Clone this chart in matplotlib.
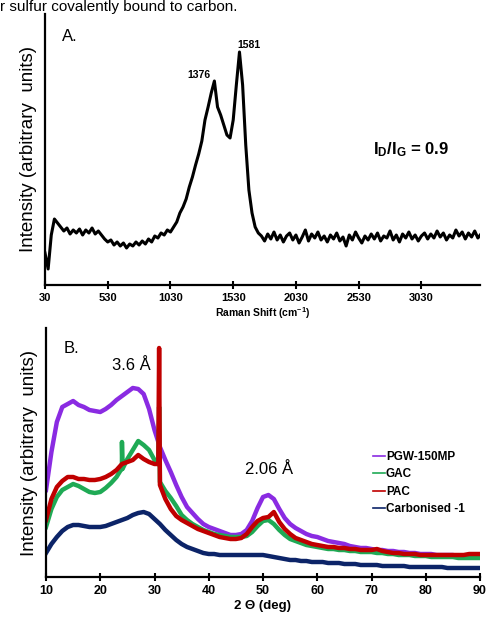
import numpy as np
import matplotlib
matplotlib.use("Agg")
import matplotlib.pyplot as plt

plt.rcParams['font.family'] = ['Liberation Sans', 'DejaVu Sans']
plt.rcParams['mathtext.fontset'] = 'custom'
plt.rcParams['mathtext.rm'] = 'Liberation Sans'
plt.rcParams['mathtext.it'] = 'Liberation Sans:italic'
plt.rcParams['mathtext.bf'] = 'Liberation Sans:bold'

# Raman spectrum (panel A), values every 25 cm-1 starting at 30
raman_intensity = [
    32, 16, 50, 66, 62, 58, 54, 57, 51, 55, 52, 56, 50, 55, 52, 57, 51, 54, 50, 46,
    43, 45, 40, 43, 39, 42, 37, 41, 39, 43, 40, 44, 41, 46, 43, 49, 47, 52, 50, 55,
    53, 58, 63, 72, 78, 86, 98, 108, 120, 131, 144, 165, 178, 192, 204, 178, 170, 160, 150, 147,
    165, 200, 233, 200, 140, 95, 72, 58, 52, 49,
    44, 51, 46, 53, 45, 50, 43, 49, 52, 45, 50, 42, 48, 55, 44, 51, 47, 53, 45, 49,
    43, 50, 46, 52, 44, 48, 39, 50, 45, 53, 47, 42, 49, 45, 51, 46, 52, 44, 49, 47,
    54, 45, 50, 43, 51, 47, 53, 46, 50, 44, 49, 52, 46, 51, 47, 54, 48, 52, 45, 50,
    47, 55, 49, 53, 46, 52, 48, 54, 47, 51,
]
raman_shift = 30 + 25 * np.arange(len(raman_intensity))
raman_ticks = [30, 530, 1030, 1530, 2030, 2530, 3030]

# XRD patterns (panel B), values every 1 degree from 10 to 90
two_theta = np.arange(10, 91, 1)
pgw = [87, 125, 155, 170, 173, 176, 172, 170, 167, 166, 165, 168, 172, 177, 181, 185, 189, 188, 183, 168,
       147, 130, 117, 105, 92, 80, 70, 64, 58, 53, 50, 48, 46, 44, 42, 42, 43, 47, 56, 69,
       80, 82, 78, 68, 59, 53, 49, 46, 43, 41, 40, 38, 36, 35, 34, 33, 31, 30, 29, 29,
       28, 27, 27, 26, 26, 25, 25, 24, 24, 23, 23, 23, 22, 22, 22, 22, 21, 21, 21, 21, 21]
gac = [50, 68, 80, 87, 90, 93, 91, 88, 85, 84, 85, 89, 94, 100, 108, 118, 127, 136, 132, 127,
       117, 95, 86, 79, 71, 62, 57, 53, 50, 47, 45, 43, 42, 41, 40, 40, 40, 41, 45, 51,
       56, 57, 53, 47, 42, 38, 36, 34, 32, 31, 30, 29, 28, 28, 27, 27, 26, 26, 25, 25,
       25, 24, 24, 23, 23, 22, 22, 22, 21, 21, 21, 20, 20, 20, 20, 20, 19, 19, 19, 19, 19]
pac = [57, 78, 90, 96, 100, 100, 98, 98, 97, 97, 98, 100, 103, 107, 113, 115, 117, 122, 118, 115,
       113, 92, 78, 68, 61, 57, 54, 51, 48, 46, 44, 42, 40, 39, 38, 38, 39, 43, 50, 56,
       59, 60, 65, 55, 48, 43, 39, 37, 35, 33, 32, 31, 30, 30, 29, 29, 28, 28, 27, 27,
       27, 28, 26, 25, 24, 24, 23, 23, 23, 22, 22, 22, 22, 22, 22, 22, 22, 22, 23, 23, 23]
carb = [24, 33, 40, 46, 50, 52, 52, 51, 50, 50, 50, 51, 53, 55, 57, 59, 62, 64, 65, 63,
        58, 53, 47, 42, 37, 33, 30, 28, 26, 24, 23, 23, 22, 22, 22, 22, 22, 22, 22, 22,
        22, 21, 20, 19, 18, 17, 17, 16, 16, 15, 15, 15, 14, 14, 14, 13, 13, 13, 12, 12,
        12, 12, 11, 11, 11, 11, 11, 10, 10, 10, 10, 10, 10, 10, 9, 9, 9, 9, 9, 9, 9]
# sharp spikes
gac_spike_x = [23.9, 24.0, 24.1, 30.7, 30.85, 31.0]
gac_spike_y = [108, 135, 108, 117, 170, 95]
pac_spike_x = [30.7, 30.85, 31.0]
pac_spike_y = [113, 229, 92]


def with_spikes(x, y, sx, sy):
    xs = np.concatenate([x, sx])
    ys = np.concatenate([y, sy])
    order = np.argsort(xs, kind="stable")
    return xs[order], ys[order]


fig = plt.figure(figsize=(4.87, 6.17), dpi=100)

fig.text(0.0, 1 - 11 / 617, "r sulfur covalently bound to carbon.", fontsize=11,
         va='baseline', ha='left')

# ---- panel A
ax1 = fig.add_axes([45 / 487, 1 - 285 / 617, 435 / 487, 271 / 617])
ax1.plot(raman_shift, raman_intensity, color='black', lw=2.2)
ax1.set_xlim(30, 3497)
ax1.set_ylim(0, 271)
ax1.set_xticks(raman_ticks)
ax1.set_yticks([])
ax1.tick_params(axis='x', direction='inout', length=6, width=1.5, labelsize=8, pad=3)
for lab in ax1.get_xticklabels():
    lab.set_fontweight('bold')
for s in ['top', 'right']:
    ax1.spines[s].set_visible(False)
for s in ['left', 'bottom']:
    ax1.spines[s].set_linewidth(1.6)
ax1.set_xlabel("Raman Shift (cm$^{\\mathbf{-1}}$)", fontsize=7.5, fontweight='bold', labelpad=1)
ax1.set_ylabel("Intensity (arbitrary  units)", fontsize=13.5, labelpad=6)
ax1.text(0.04, 0.9, "A.", transform=ax1.transAxes, fontsize=12)
ax1.text(1259, 205, "1376", fontsize=7.5, fontweight='bold', ha='center', va='bottom')
ax1.text(1658, 235, "1581", fontsize=7.5, fontweight='bold', ha='center', va='bottom')
ax1.text(2943, 135, "I$_\\mathbf{D}$/I$_\\mathbf{G}$ = 0.9", fontsize=12,
         fontweight='bold', ha='center', va='center')

# ---- panel B
ax2 = fig.add_axes([46 / 487, 1 - 577 / 617, 434 / 487, 249 / 617])
gx, gy = with_spikes(two_theta, gac, gac_spike_x, gac_spike_y)
px, py = with_spikes(two_theta, pac, pac_spike_x, pac_spike_y)
ax2.plot(two_theta, pgw, color='#8a2be2', lw=3.2, label='PGW-150MP')
ax2.plot(gx, gy, color='#1faa55', lw=3.2, label='GAC')
ax2.plot(px, py, color='#c00000', lw=3.2, label='PAC')
ax2.plot(two_theta, carb, color='#0c2468', lw=3.2, label='Carbonised -1')
ax2.set_xlim(10, 90)
ax2.set_ylim(0, 249)
ax2.set_xticks(range(10, 91, 10))
ax2.set_yticks([])
ax2.tick_params(axis='x', direction='inout', length=6, width=1.5, labelsize=9, pad=3)
for lab in ax2.get_xticklabels():
    lab.set_fontweight('bold')
for s in ['top', 'right']:
    ax2.spines[s].set_visible(False)
for s in ['left', 'bottom']:
    ax2.spines[s].set_linewidth(1.6)
ax2.set_xlabel("2 Θ (deg)", fontsize=9.5, fontweight='bold', labelpad=2)
ax2.set_ylabel("Intensity (arbitrary  units)", fontsize=13.5, labelpad=6)
ax2.text(0.04, 0.9, "B.", transform=ax2.transAxes, fontsize=12)
ax2.text(25.7, 212, "3.6 Å", fontsize=12, ha='center', va='center')
ax2.text(51.1, 107, "2.06 Å", fontsize=12, ha='center', va='center')
leg = ax2.legend(loc='upper left', bbox_to_anchor=(0.753, 0.506), frameon=False,
                 borderaxespad=0, borderpad=0,
                 handlelength=1.0, handletextpad=0.1, labelspacing=0.46,
                 prop={'weight': 'bold', 'size': 8.5})
for h in leg.legend_handles:
    h.set_linewidth(1.2)

fig.savefig("out.png", dpi=100)
